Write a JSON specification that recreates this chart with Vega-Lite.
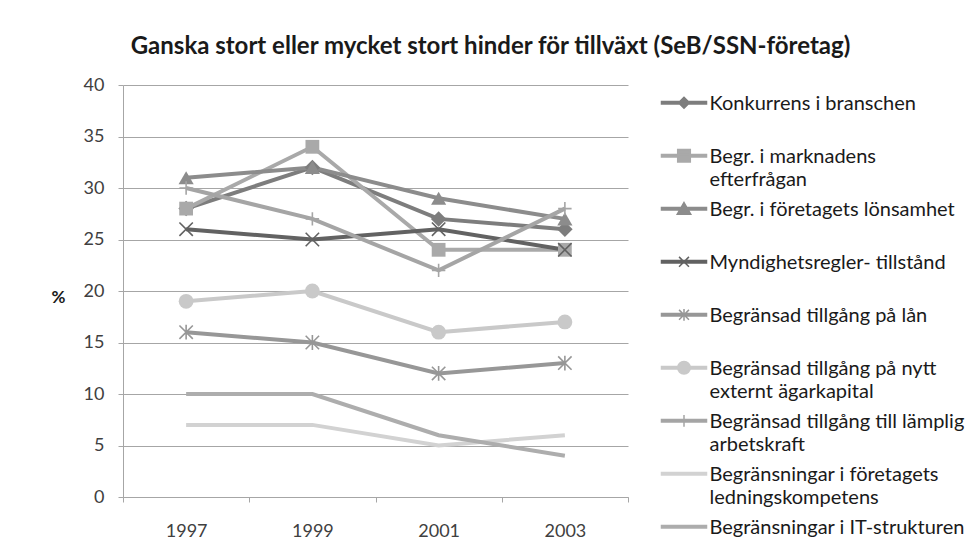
{
  "$schema": "https://vega.github.io/schema/vega-lite/v6.json",
  "width": 505,
  "height": 412,
  "autosize": "none",
  "padding": {"left": 123, "top": 85, "right": 348, "bottom": 61},
  "background": "white",
  "title": {"text": "Ganska stort eller mycket stort hinder för tillväxt (SeB/SSN-företag)", "font": "Lato", "fontSize": 24, "fontWeight": "bold", "color": "#1a1a1a", "anchor": "middle", "dx": 115, "offset": 17},
  "data": {"values": [
    {"series": "Konkurrens i branschen", "year": "1997", "value": 28},
    {"series": "Konkurrens i branschen", "year": "1999", "value": 32},
    {"series": "Konkurrens i branschen", "year": "2001", "value": 27},
    {"series": "Konkurrens i branschen", "year": "2003", "value": 26},
    {"series": "Begr. i marknadens efterfrågan", "year": "1997", "value": 28},
    {"series": "Begr. i marknadens efterfrågan", "year": "1999", "value": 34},
    {"series": "Begr. i marknadens efterfrågan", "year": "2001", "value": 24},
    {"series": "Begr. i marknadens efterfrågan", "year": "2003", "value": 24},
    {"series": "Begr. i företagets lönsamhet", "year": "1997", "value": 31},
    {"series": "Begr. i företagets lönsamhet", "year": "1999", "value": 32},
    {"series": "Begr. i företagets lönsamhet", "year": "2001", "value": 29},
    {"series": "Begr. i företagets lönsamhet", "year": "2003", "value": 27},
    {"series": "Myndighetsregler- tillstånd", "year": "1997", "value": 26},
    {"series": "Myndighetsregler- tillstånd", "year": "1999", "value": 25},
    {"series": "Myndighetsregler- tillstånd", "year": "2001", "value": 26},
    {"series": "Myndighetsregler- tillstånd", "year": "2003", "value": 24},
    {"series": "Begränsad tillgång på lån", "year": "1997", "value": 16},
    {"series": "Begränsad tillgång på lån", "year": "1999", "value": 15},
    {"series": "Begränsad tillgång på lån", "year": "2001", "value": 12},
    {"series": "Begränsad tillgång på lån", "year": "2003", "value": 13},
    {"series": "Begränsad tillgång på nytt externt ägarkapital", "year": "1997", "value": 19},
    {"series": "Begränsad tillgång på nytt externt ägarkapital", "year": "1999", "value": 20},
    {"series": "Begränsad tillgång på nytt externt ägarkapital", "year": "2001", "value": 16},
    {"series": "Begränsad tillgång på nytt externt ägarkapital", "year": "2003", "value": 17},
    {"series": "Begränsad tillgång till lämplig arbetskraft", "year": "1997", "value": 30},
    {"series": "Begränsad tillgång till lämplig arbetskraft", "year": "1999", "value": 27},
    {"series": "Begränsad tillgång till lämplig arbetskraft", "year": "2001", "value": 22},
    {"series": "Begränsad tillgång till lämplig arbetskraft", "year": "2003", "value": 28},
    {"series": "Begränsningar i företagets ledningskompetens", "year": "1997", "value": 7},
    {"series": "Begränsningar i företagets ledningskompetens", "year": "1999", "value": 7},
    {"series": "Begränsningar i företagets ledningskompetens", "year": "2001", "value": 5},
    {"series": "Begränsningar i företagets ledningskompetens", "year": "2003", "value": 6},
    {"series": "Begränsningar i IT-strukturen", "year": "1997", "value": 10},
    {"series": "Begränsningar i IT-strukturen", "year": "1999", "value": 10},
    {"series": "Begränsningar i IT-strukturen", "year": "2001", "value": 6},
    {"series": "Begränsningar i IT-strukturen", "year": "2003", "value": 4}
  ]},
  "encoding": {
    "x": {"field": "year", "type": "ordinal", "scale": {"type": "band", "paddingInner": 0, "paddingOuter": 0},
      "axis": {"title": null, "labelAngle": 0, "tickBand": "extent", "grid": false, "domainColor": "#a6a6a6", "tickColor": "#a6a6a6", "tickSize": 5, "labelFont": "Lato", "labelFontSize": 18, "labelColor": "#404040", "labelPadding": 20}},
    "y": {"field": "value", "type": "quantitative", "scale": {"domain": [0, 40], "nice": false},
      "axis": {"values": [0, 5, 10, 15, 20, 25, 30, 35, 40], "grid": true, "gridColor": "#a6a6a6", "domainColor": "#a6a6a6", "tickColor": "#a6a6a6", "tickSize": 5, "labelFont": "Lato", "labelFontSize": 18, "labelColor": "#404040", "labelPadding": 14,
        "title": "%", "titleAngle": 0, "titleX": -65, "titleY": 212, "titleAlign": "center", "titleBaseline": "middle", "titleFont": "Lato", "titleFontSize": 17, "titleFontWeight": "bold", "titleColor": "#1a1a1a"}}
  },
  "layer": [
    {"mark": {"type": "line", "strokeWidth": 4},
      "encoding": {"color": {"field": "series", "type": "nominal", "legend": null,
        "scale": {"domain": ["Konkurrens i branschen", "Begr. i marknadens efterfrågan", "Begr. i företagets lönsamhet", "Myndighetsregler- tillstånd", "Begränsad tillgång på lån", "Begränsad tillgång på nytt externt ägarkapital", "Begränsad tillgång till lämplig arbetskraft", "Begränsningar i företagets ledningskompetens", "Begränsningar i IT-strukturen"],
          "range": ["#7d7d7d", "#a9a9a9", "#8c8c8c", "#626262", "#979797", "#c9c9c9", "#a5a5a5", "#d2d2d2", "#adadad"]}}}},
    {"transform": [{"filter": "datum.series == 'Konkurrens i branschen'"}],
      "mark": {"type": "point", "filled": true, "opacity": 1, "shape": "diamond", "size": 240},
      "encoding": {"color": {"field": "series", "type": "nominal", "legend": null}}},
    {"transform": [{"filter": "datum.series == 'Begr. i marknadens efterfrågan'"}],
      "mark": {"type": "point", "filled": true, "opacity": 1, "shape": "square", "size": 190},
      "encoding": {"color": {"field": "series", "type": "nominal", "legend": null}}},
    {"transform": [{"filter": "datum.series == 'Begr. i företagets lönsamhet'"}],
      "mark": {"type": "point", "filled": true, "opacity": 1, "shape": "triangle-up", "size": 230},
      "encoding": {"color": {"field": "series", "type": "nominal", "legend": null}}},
    {"transform": [{"filter": "datum.series == 'Myndighetsregler- tillstånd'"}],
      "mark": {"type": "point", "filled": false, "opacity": 1, "shape": "M-1,-1L1,1M-1,1L1,-1", "size": 180, "strokeWidth": 1.6},
      "encoding": {"color": {"field": "series", "type": "nominal", "legend": null}}},
    {"transform": [{"filter": "datum.series == 'Begränsad tillgång på lån'"}],
      "mark": {"type": "point", "filled": false, "opacity": 1, "shape": "M-1,-1L1,1M-1,1L1,-1M0,-1.1L0,1.1", "size": 180, "strokeWidth": 1.6},
      "encoding": {"color": {"field": "series", "type": "nominal", "legend": null}}},
    {"transform": [{"filter": "datum.series == 'Begränsad tillgång på nytt externt ägarkapital'"}],
      "mark": {"type": "point", "filled": true, "opacity": 1, "shape": "circle", "size": 220},
      "encoding": {"color": {"field": "series", "type": "nominal", "legend": null}}},
    {"transform": [{"filter": "datum.series == 'Begränsad tillgång till lämplig arbetskraft'"}],
      "mark": {"type": "point", "filled": false, "opacity": 1, "shape": "M-1,0L1,0M0,-1L0,1", "size": 180, "strokeWidth": 1.6},
      "encoding": {"color": {"field": "series", "type": "nominal", "legend": null}}},
    {"transform": [{"filter": "datum.value < 0"}],
      "mark": {"type": "point", "filled": true, "opacity": 1, "strokeWidth": 1.5},
      "encoding": {
        "color": {"field": "series", "type": "nominal",
          "scale": {"domain": ["Konkurrens i branschen", "Begr. i marknadens efterfrågan", "Begr. i företagets lönsamhet", "Myndighetsregler- tillstånd", "Begränsad tillgång på lån", "Begränsad tillgång på nytt externt ägarkapital", "Begränsad tillgång till lämplig arbetskraft", "Begränsningar i företagets ledningskompetens", "Begränsningar i IT-strukturen"],
            "range": ["#7d7d7d", "#a9a9a9", "#8c8c8c", "#626262", "#979797", "#c9c9c9", "#a5a5a5", "#d2d2d2", "#adadad"]},
          "legend": {
            "orient": "none", "legendX": 551, "legendY": -1, "title": null, "padding": 0,
            "labelFont": "Lato", "labelFontSize": 20, "labelColor": "#1a1a1a", "labelBaseline": "top", "labelOffset": 15.5, "labelLimit": 500,
            "symbolSize": 324, "symbolStrokeWidth": 1.5, "rowPadding": 0,
            "labelExpr": "datum.label == 'Begr. i marknadens efterfrågan' ? ['Begr. i marknadens', 'efterfrågan'] : datum.label == 'Begränsad tillgång på nytt externt ägarkapital' ? ['Begränsad tillgång på nytt', 'externt ägarkapital'] : datum.label == 'Begränsad tillgång till lämplig arbetskraft' ? ['Begränsad tillgång till lämplig', 'arbetskraft'] : datum.label == 'Begränsningar i företagets ledningskompetens' ? ['Begränsningar i företagets', 'ledningskompetens'] : [datum.label, '']"
          }},
        "stroke": {"field": "series", "type": "nominal",
          "scale": {"domain": ["Konkurrens i branschen", "Begr. i marknadens efterfrågan", "Begr. i företagets lönsamhet", "Myndighetsregler- tillstånd", "Begränsad tillgång på lån", "Begränsad tillgång på nytt externt ägarkapital", "Begränsad tillgång till lämplig arbetskraft", "Begränsningar i företagets ledningskompetens", "Begränsningar i IT-strukturen"],
            "range": ["#7d7d7d", "#a9a9a9", "#8c8c8c", "#626262", "#979797", "#c9c9c9", "#a5a5a5", "#d2d2d2", "#adadad"]}},
        "shape": {"field": "series", "type": "nominal",
          "scale": {"domain": ["Konkurrens i branschen", "Begr. i marknadens efterfrågan", "Begr. i företagets lönsamhet", "Myndighetsregler- tillstånd", "Begränsad tillgång på lån", "Begränsad tillgång på nytt externt ägarkapital", "Begränsad tillgång till lämplig arbetskraft", "Begränsningar i företagets ledningskompetens", "Begränsningar i IT-strukturen"],
            "range": [
              "M-2.5,0.84H2.5V1.12H-2.5Z M-0.61,0.98L0,0.37L0.61,0.98L0,1.59Z",
              "M-2.5,0.84H2.5V1.12H-2.5Z M-0.7,0.28H0.7V1.68H-0.7Z",
              "M-2.5,0.84H2.5V1.12H-2.5Z M0,0.28L0.75,1.58L-0.75,1.58Z",
              "M-2.5,0.84H2.5V1.12H-2.5Z M-0.55,0.43L0.55,1.53M-0.55,1.53L0.55,0.43",
              "M-2.5,0.84H2.5V1.12H-2.5Z M-0.55,0.43L0.55,1.53M-0.55,1.53L0.55,0.43M0,0.33L0,1.63",
              "M-2.5,0.84H2.5V1.12H-2.5Z M0.7,0.98A0.7,0.7 0 1,1 -0.7,0.98A0.7,0.7 0 1,1 0.7,0.98Z",
              "M-2.5,0.84H2.5V1.12H-2.5Z M0,0.33L0,1.63",
              "M-2.5,0.84H2.5V1.12H-2.5Z",
              "M-2.5,0.84H2.5V1.12H-2.5Z"
            ]}}
      }}
  ],
  "resolve": {"legend": {"color": "independent", "stroke": "independent", "shape": "independent"}},
  "config": {
    "view": {"stroke": null},
    "style": {"guide-label": {"lineHeight": 23}}
  }
}
